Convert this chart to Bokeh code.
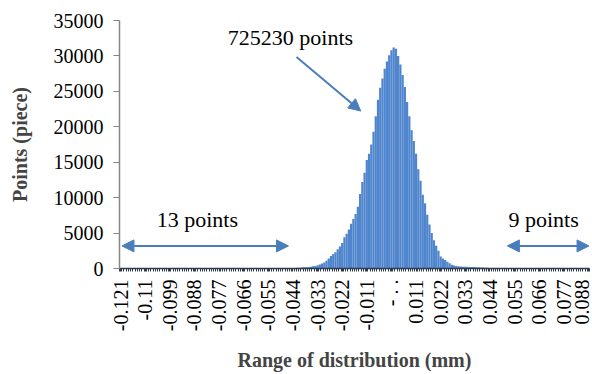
from bokeh.plotting import figure
from bokeh.models import Range1d, FixedTicker, Label, Arrow, NormalHead
from bokeh.embed import file_html
from bokeh.resources import INLINE

# Category bins: -0.121 ... 0.088 mm (step 0.001) -> 210 bins, index 0..209
n_bins = 210
tick_idx = [0, 11, 22, 33, 44, 55, 66, 77, 88, 99, 110, 121, 132, 143, 154, 165, 176, 187, 198, 209]
tick_labels = ["-0.121", "-0.11", "-0.099", "-0.088", "-0.077", "-0.066", "-0.055", "-0.044",
               "-0.033", "-0.022", "-0.011", "- . .", "0.011", "0.022", "0.033", "0.044",
               "0.055", "0.066", "0.077", "0.088"]
x_title = "Range of distribution (mm)"
y_title = "Points (piece)"

counts = [
    # idx 0-76 (left tail, 13 points)
    0, 0, 0, 1, 0, 0, 0, 0, 1, 0, 0, 0, 0, 0, 0, 1, 0, 0, 0, 0,
    0, 0, 0, 1, 0, 0, 0, 0, 0, 0, 1, 0, 0, 0, 1, 0, 0, 0, 0, 0,
    0, 1, 0, 0, 1, 0, 0, 0, 0, 0, 0, 0, 1, 0, 0, 1, 0, 0, 0, 1,
    0, 0, 0, 0, 0, 0, 0, 0, 1, 0, 0, 0, 0, 1, 0, 0, 0,
    # idx 77-86
    60, 80, 100, 120, 140, 160, 180, 210, 250, 300,
    # idx 87-106
    370, 450, 560, 700, 850, 1100, 1400, 1750, 2050, 2300,
    2700, 3100, 3600, 4400, 4900, 5500, 6300, 7000, 7700, 8700,
    # idx 107-139
    10500, 12200, 13500, 15300, 16200, 17500, 19300, 21500, 23800, 25500,
    26800, 28200, 29200, 30100, 30800, 31200, 31000, 30000, 28800, 27300,
    25600, 23500, 21500, 19500, 18000, 16200, 14000, 12400, 10400, 9200,
    7600, 6200, 5000,
    # idx 140-172
    4000, 3200, 2500, 1700, 1400, 1200, 950, 750, 520, 420,
    360, 320, 280, 260, 250, 230, 220, 210, 200, 190,
    170, 150, 130, 110, 90, 70, 50, 35, 20, 10, 5, 3, 2,
    # idx 173-209 (right tail, 9 points)
    0, 0, 0, 1, 0, 0, 0, 1, 0, 0, 0, 1, 0, 0, 0, 1, 0, 0, 0, 1,
    0, 0, 1, 0, 0, 0, 1, 0, 0, 0, 1, 0, 0, 0, 1, 0, 0,
]
bins = list(range(n_bins))

y_ticks = [0, 5000, 10000, 15000, 20000, 25000, 30000, 35000]

BAR = "#4F85CC"
ARROW = "#4A7EBB"
FONT = "Liberation Serif"

p = figure(width=592, height=374, output_backend="svg", toolbar_location=None,
           x_range=Range1d(-0.5, n_bins - 0.5), y_range=Range1d(0, 35000),
           min_border_left=119, min_border_right=3, min_border_top=20, min_border_bottom=102)
p.outline_line_color = None
p.grid.visible = False
p.background_fill_color = "white"
p.border_fill_color = "white"

p.vbar(x=bins, top=counts, width=1.0, fill_color=BAR, line_color=None)

# x axis
p.xaxis.ticker = FixedTicker(ticks=tick_idx, minor_ticks=[i - 0.5 for i in range(n_bins + 1)])
p.xaxis.major_label_overrides = {i: t for i, t in zip(tick_idx, tick_labels)}
p.xaxis.major_label_orientation = 3.14159265 / 2
p.xaxis.major_label_text_font = FONT
p.xaxis.major_label_text_font_size = "20px"
p.xaxis.major_label_text_color = "black"
p.xaxis.major_label_standoff = 8
p.xaxis.axis_line_color = "#2F3B4C"
p.xaxis.axis_line_width = 1.5
p.xaxis.major_tick_out = 3
p.xaxis.major_tick_in = 0
p.xaxis.minor_tick_out = 3
p.xaxis.minor_tick_in = 0
p.xaxis.major_tick_line_color = "#2F3B4C"
p.xaxis.minor_tick_line_color = "#2F3B4C"
p.xaxis.axis_label = x_title
p.xaxis.axis_label_text_font = FONT
p.xaxis.axis_label_text_font_style = "bold"
p.xaxis.axis_label_text_font_size = "20px"
p.xaxis.axis_label_standoff = 15

# y axis
p.yaxis.ticker = FixedTicker(ticks=y_ticks)
p.yaxis.major_label_text_font = FONT
p.yaxis.major_label_text_font_size = "20px"
p.yaxis.major_label_text_color = "black"
p.yaxis.major_label_standoff = 10
p.yaxis.axis_line_color = "#868686"
p.yaxis.axis_line_width = 1.5
p.yaxis.major_tick_out = 6
p.yaxis.major_tick_in = 0
p.yaxis.minor_tick_line_color = None
p.yaxis.major_tick_line_color = "#868686"
p.yaxis.axis_label = y_title
p.yaxis.axis_label_text_font = FONT
p.yaxis.axis_label_text_font_style = "bold"
p.yaxis.axis_label_text_font_size = "20px"
p.yaxis.axis_label_standoff = 20

# annotations
for txt, x, y in [("725230 points", 75.9, 32600), ("13 points", 34.3, 6900), ("9 points", 189.0, 6900)]:
    p.add_layout(Label(x=x, y=y, text=txt, text_font=FONT, text_font_size="22px",
                       text_align="center", text_baseline="middle", text_color="black"))

def head():
    return NormalHead(size=12, fill_color=ARROW, line_color=ARROW)

p.add_layout(Arrow(end=head(), x_start=78.6, y_start=29860, x_end=107.3, y_end=22220,
                   line_color=ARROW, line_width=2))
p.add_layout(Arrow(start=head(), end=head(), x_start=0.6, y_start=3190, x_end=75.0, y_end=3190,
                   line_color=ARROW, line_width=2))
p.add_layout(Arrow(start=head(), end=head(), x_start=172.8, y_start=3190, x_end=209.3, y_end=3190,
                   line_color=ARROW, line_width=2))

open("out.html", "w").write(file_html(p, INLINE))
